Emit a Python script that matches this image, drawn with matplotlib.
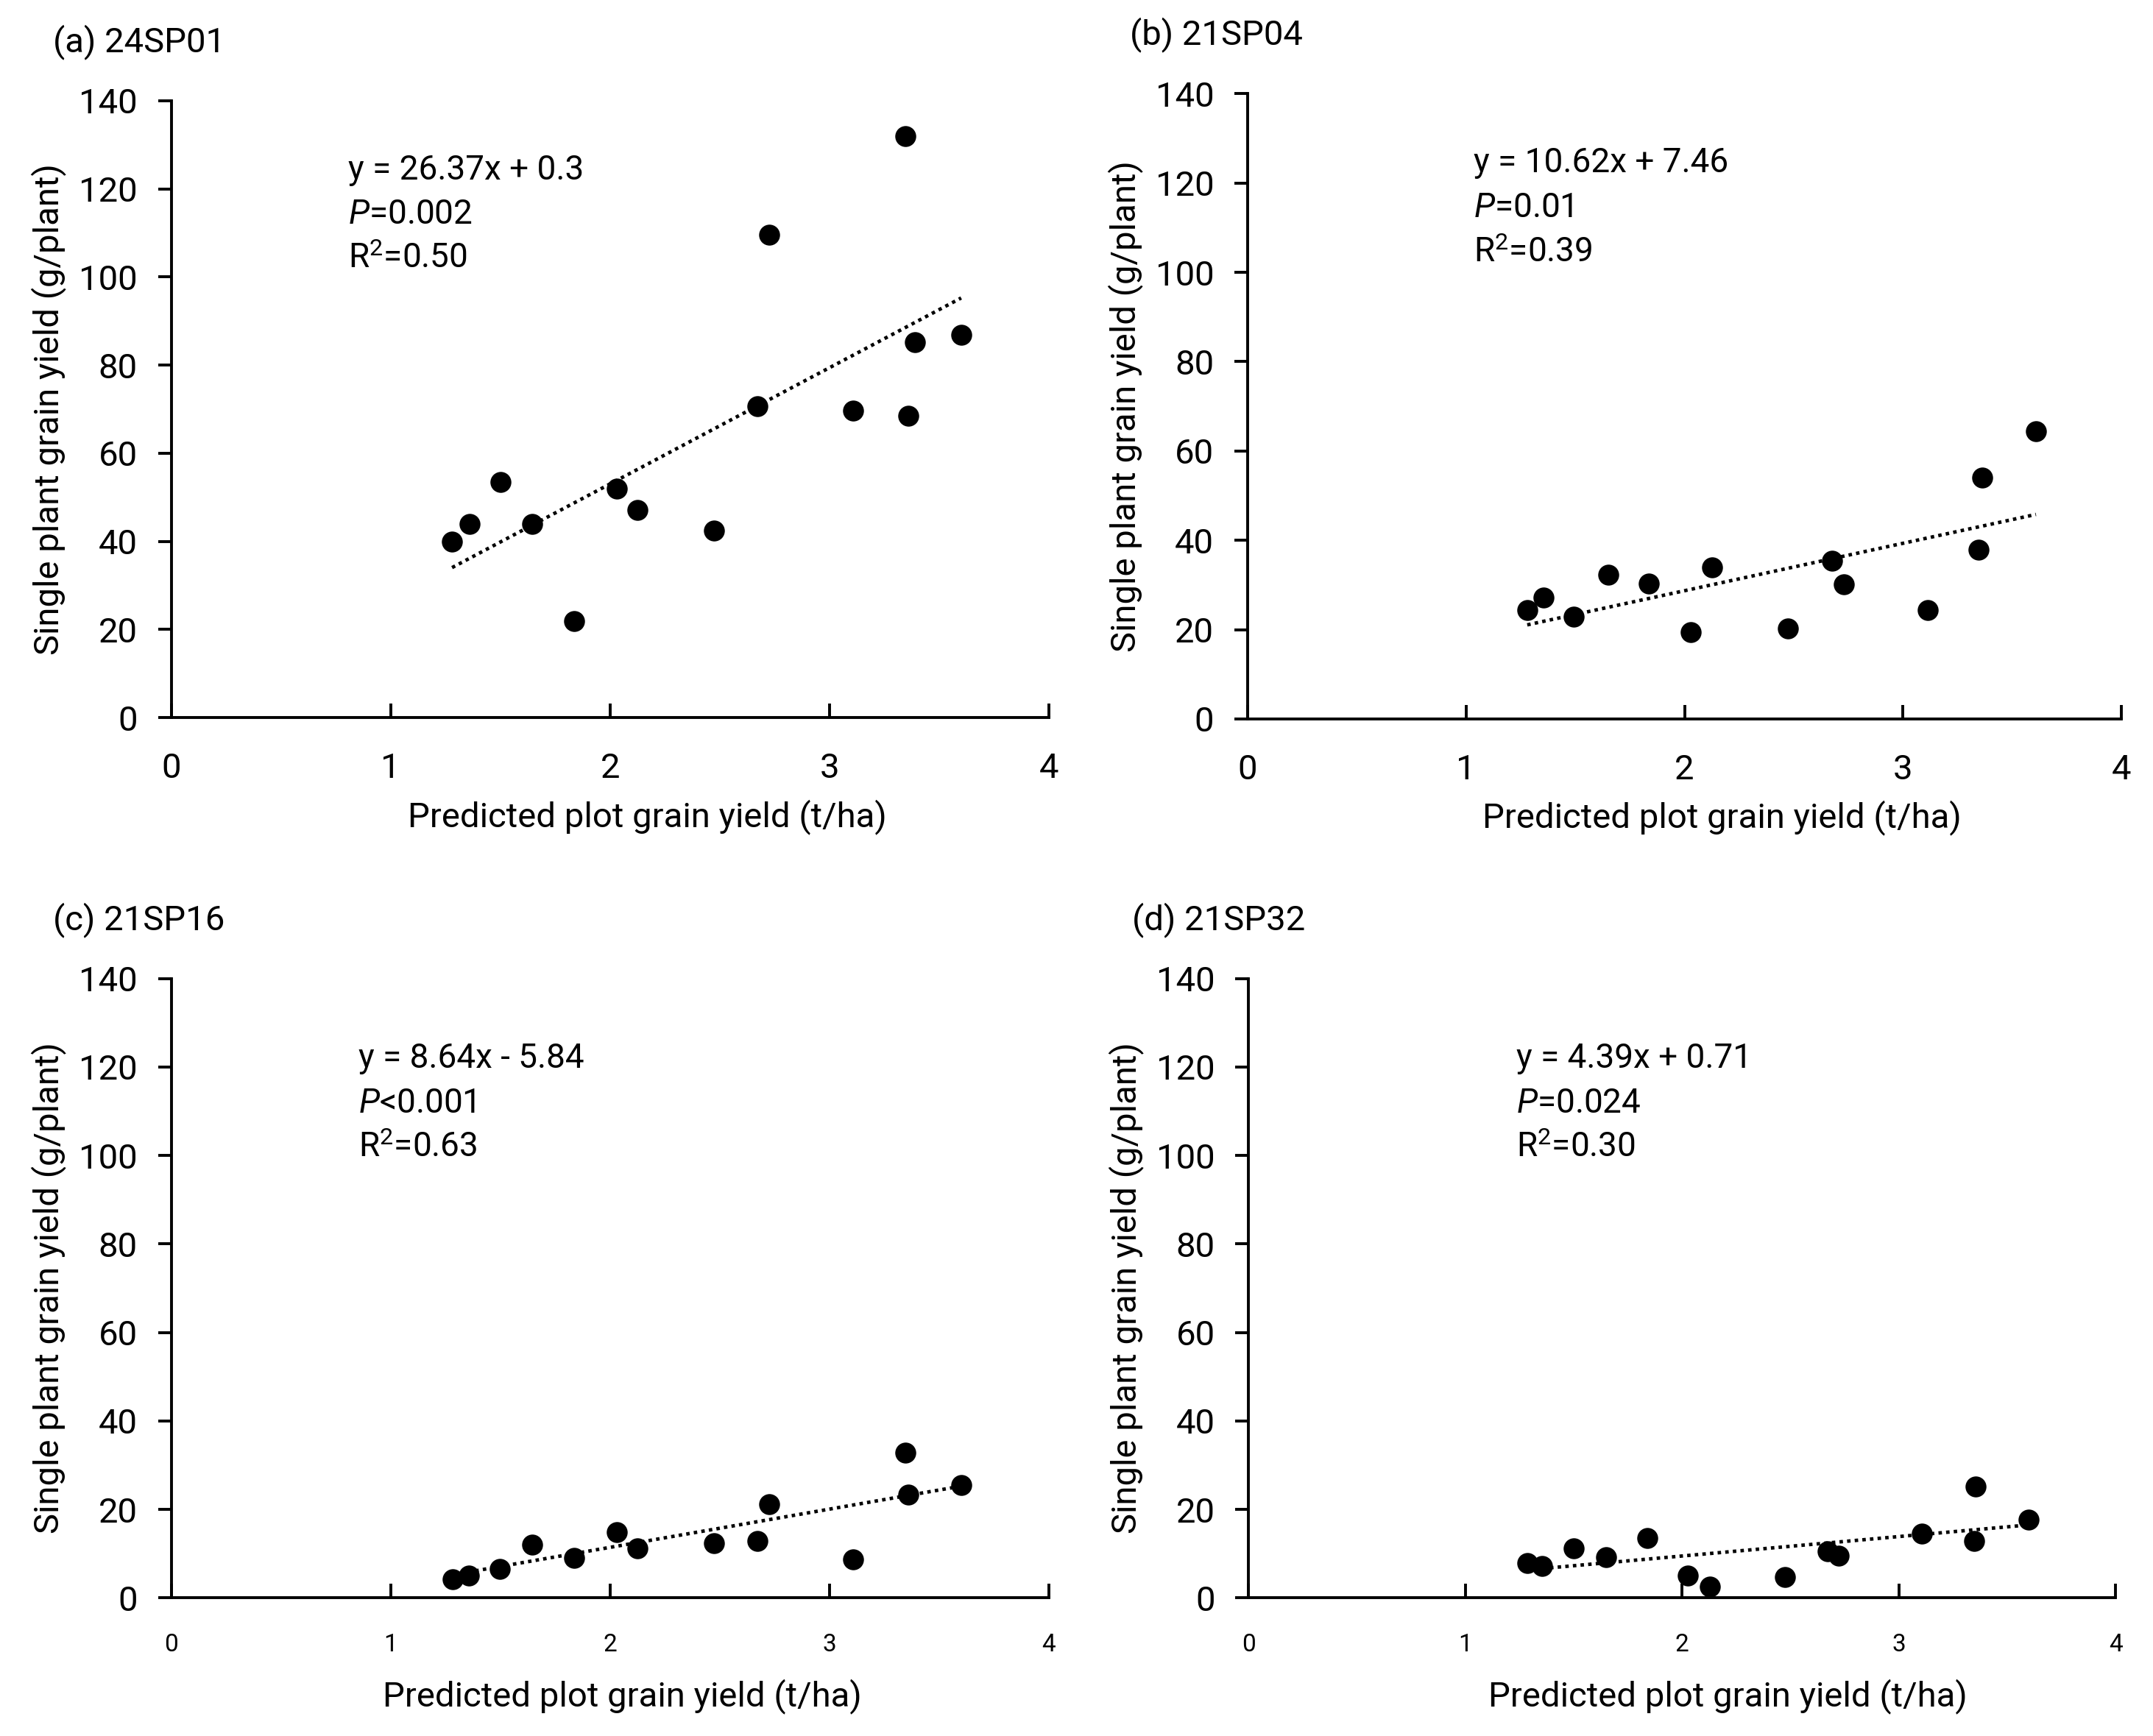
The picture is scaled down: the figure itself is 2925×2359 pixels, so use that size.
import numpy as np
import matplotlib.pyplot as plt

plt.rcParams['font.family'] = ['Roboto', 'DejaVu Sans']
plt.rcParams['mathtext.fontset'] = 'custom'
plt.rcParams['mathtext.rm'] = 'Roboto'
plt.rcParams['mathtext.it'] = 'Roboto:italic'

# predicted plot grain yield (t/ha) and single plant grain yield (g/plant)
x_a = [1.28, 1.36, 1.50, 1.645, 1.836, 2.03, 2.126, 2.475, 2.673, 2.726, 3.107, 3.346, 3.358, 3.39, 3.60]
y_a = [40.0, 43.9, 53.5, 43.9, 21.9, 52.0, 47.2, 42.5, 70.6, 109.5, 69.6, 131.9, 68.5, 85.2, 86.8]

x_b = [1.28, 1.354, 1.493, 1.651, 1.837, 2.027, 2.125, 2.472, 2.674, 2.728, 3.113, 3.347, 3.362, 3.609]
y_b = [24.3, 27.1, 22.9, 32.2, 30.3, 19.5, 34.0, 20.3, 35.4, 30.1, 24.3, 37.9, 54.0, 64.4]

x_c = [1.283, 1.358, 1.497, 1.645, 1.836, 2.031, 2.126, 2.475, 2.673, 2.726, 3.107, 3.346, 3.358, 3.60]
y_c = [4.2, 5.0, 6.5, 12.1, 9.1, 14.9, 11.3, 12.3, 12.8, 21.2, 8.7, 32.9, 23.4, 25.6]

x_d = [1.285, 1.354, 1.499, 1.65, 1.839, 2.025, 2.129, 2.476, 2.671, 2.721, 3.106, 3.354, 3.348, 3.60]
y_d = [7.9, 7.2, 11.3, 9.2, 13.5, 5.0, 2.6, 4.7, 10.6, 9.5, 14.5, 25.2, 12.9, 17.7]

titles = ['(a) 24SP01', '(b) 21SP04', '(c) 21SP16', '(d) 21SP32']
slopes = [26.37, 10.62, 8.64, 4.39]
intercepts = [0.3, 7.46, -5.84, 0.71]
eq_texts = ['y = 26.37x + 0.3', 'y = 10.62x + 7.46', 'y = 8.64x - 5.84', 'y = 4.39x + 0.71']
p_texts = ['=0.002', '=0.01', '<0.001', '=0.024']
r2_texts = ['=0.50', '=0.39', '=0.63', '=0.30']

xs = [x_a, x_b, x_c, x_d]
ys = [y_a, y_b, y_c, y_d]

fig = plt.figure(figsize=(29.25, 23.59), dpi=100)

boxes = [[0.0795, 0.5866, 0.4077, 0.3554],
         [0.5795, 0.5859, 0.4058, 0.3601],
         [0.0795, 0.0795, 0.4077, 0.3569],
         [0.5800, 0.0795, 0.4026, 0.3569]]
text_pos = [(0.805, 124.3), (1.036, 124.5), (0.855, 121.9), (1.236, 121.9)]
xlabel_x = [0.542, 0.543, 0.514, 0.553]

fs = 34
for i in range(4):
    ax = fig.add_axes(boxes[i])
    x = np.array(xs[i])
    y = np.array(ys[i])
    ax.scatter(x, y, s=420, color='black', zorder=3, linewidths=0)
    xl = np.array([x.min(), x.max()])
    ax.plot(xl, slopes[i] * xl + intercepts[i], color='black', linestyle=(0, (1, 1.2)),
            linewidth=3.4, zorder=2)

    ax.set_xlim(0, 4)
    ax.set_ylim(0, 140)
    ax.set_xticks([0, 1, 2, 3, 4])
    ax.set_yticks(range(0, 141, 20))
    for s in ['top', 'right']:
        ax.spines[s].set_visible(False)
    for s in ['left', 'bottom']:
        ax.spines[s].set_linewidth(2.8)
    ax.tick_params(axis='y', direction='out', length=13, width=2.8, labelsize=fs, pad=20)
    if i < 2:
        ax.tick_params(axis='x', direction='in', length=14, width=2.8, labelsize=fs, pad=34)
        ax.set_xlabel('Predicted plot grain yield (t/ha)', fontsize=fs, labelpad=14)
    else:
        ax.tick_params(axis='x', direction='in', length=14, width=2.8, labelsize=24, pad=34)
        ax.set_xlabel('Predicted plot grain yield (t/ha)', fontsize=fs, labelpad=22)
    ax.xaxis.label.set_x(xlabel_x[i])
    ax.set_ylabel('Single plant grain yield (g/plant)', fontsize=fs, labelpad=12)

    tx, ty = text_pos[i]
    ax.text(tx, ty, eq_texts[i], fontsize=33, va='center', ha='left')
    ax.text(tx, ty - 10, r'$\mathit{P}$' + p_texts[i], fontsize=33, va='center', ha='left')
    ax.text(tx, ty - 20, r'R$^{2}$' + r2_texts[i], fontsize=33, va='center', ha='left')

    ax.text(-0.135, 1.095, titles[i], transform=ax.transAxes, fontsize=fs, ha='left', va='center')

fig.savefig('out.png', dpi=100, facecolor='white')
